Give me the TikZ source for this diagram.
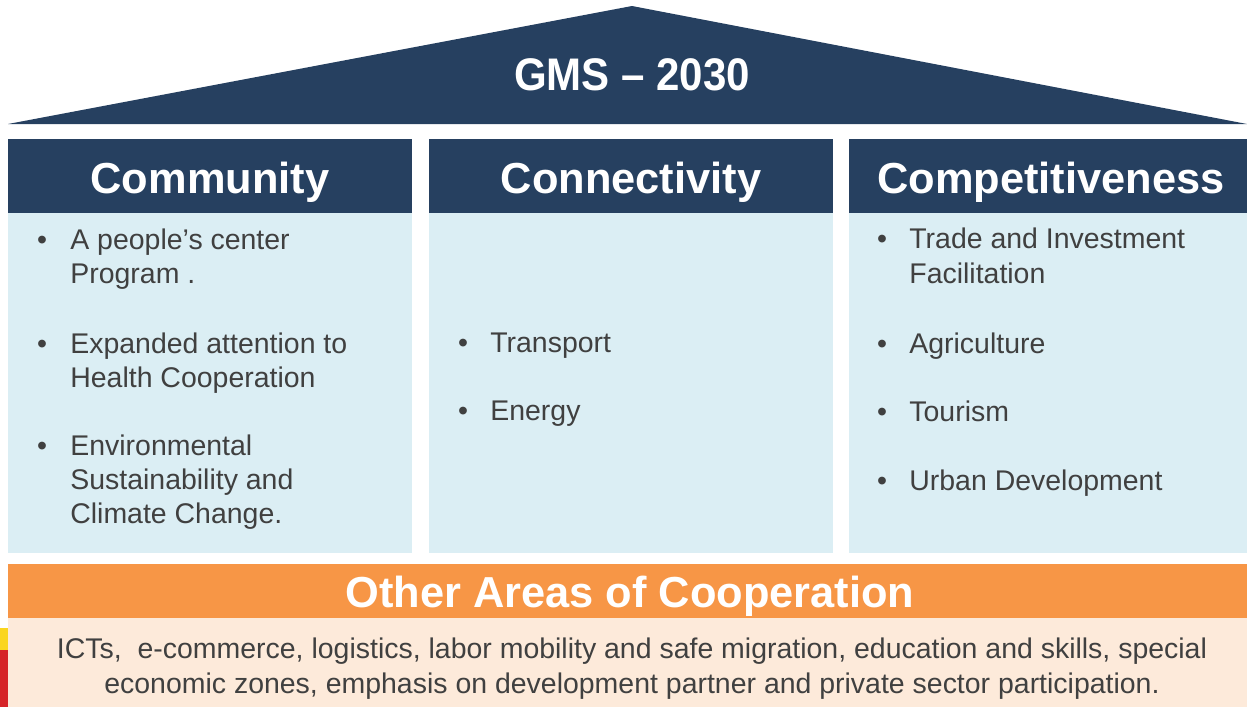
\documentclass[tikz,border=0pt]{standalone}
\usepackage{fontspec}
\setmainfont{Liberation Sans}
\usepackage{graphicx}

\definecolor{roofnavy}{RGB}{38,64,96}
\definecolor{paleblue}{RGB}{219,238,244}
\definecolor{bandorange}{RGB}{247,150,70}
\definecolor{peach}{RGB}{253,234,218}
\definecolor{bodygray}{RGB}{64,64,64}
\definecolor{logored}{RGB}{214,36,40}
\definecolor{logoyellow}{RGB}{250,214,30}

\tikzset{
  headtext/.style={font=\bfseries\fontsize{24.7}{29}\selectfont, white, anchor=base, inner sep=0pt},
  itemtext/.style={font=\fontsize{16.2}{19.4}\selectfont, bodygray, anchor=base west, inner sep=0pt},
  itemdot/.style={font=\fontsize{16.2}{19.4}\selectfont, bodygray, anchor=base, inner sep=0pt},
  bandtext/.style={font=\fontsize{16.2}{19.4}\selectfont, bodygray, anchor=base, inner sep=0pt}
}

\begin{document}
\begin{tikzpicture}[x=0.02cm, y=-0.02cm]
        \useasboundingbox (0,0) rectangle (1247,707);
        % roof
        \fill[roofnavy] (8,124) -- (632,6) -- (1247,124) -- cycle;
        \node[headtext, font=\bfseries\fontsize{26}{30}\selectfont] (gms) at (632,90) {\scalebox{0.92}[1]{GMS – 2030}};
        % pillars
        \fill[roofnavy] (8,139) rectangle (412,213);
        \fill[roofnavy] (429,139) rectangle (833,213);
        \fill[roofnavy] (849,139) rectangle (1247,213);
        \fill[paleblue] (8,213) rectangle (412,553);
        \fill[paleblue] (429,213) rectangle (833,553);
        \fill[paleblue] (849,213) rectangle (1247,553);
        \node[headtext] (community) at (210,193) {Community};
        \node[headtext] (connectivity) at (631,193) {Connectivity};
        \node[headtext] (competitive) at (1051,193) {Competitiveness};
        % community items
        \node[itemdot] (dotA) at (42,249) {•};
        \node[itemtext] (comA1) at (70,249) {A people’s center};
        \node[itemtext] (comA2) at (70,283) {Program .};
        \node[itemdot] (dotB) at (42,353) {•};
        \node[itemtext] (comB1) at (70,353) {Expanded attention to};
        \node[itemtext] (comB2) at (70,387) {Health Cooperation};
        \node[itemdot] (dotC) at (42,455) {•};
        \node[itemtext] (comC1) at (70,455) {Environmental};
        \node[itemtext] (comC2) at (70,489) {Sustainability and};
        \node[itemtext] (comC3) at (70,523) {Climate Change.};
        % connectivity items
        \node[itemdot] (dotD) at (463,352) {•};
        \node[itemtext] (conA) at (490,352) {Transport};
        \node[itemdot] (dotE) at (463,420) {•};
        \node[itemtext] (conB) at (490,420) {Energy};
        % competitiveness items
        \node[itemdot] (dotF) at (882,248) {•};
        \node[itemtext] (cmpA1) at (909,248) {Trade and Investment};
        \node[itemtext] (cmpA2) at (909,283) {Facilitation};
        \node[itemdot] (dotG) at (882,353) {•};
        \node[itemtext] (cmpB) at (909,353) {Agriculture};
        \node[itemdot] (dotH) at (882,421) {•};
        \node[itemtext] (cmpC) at (909,421) {Tourism};
        \node[itemdot] (dotI) at (882,490) {•};
        \node[itemtext] (cmpD) at (909,490) {Urban Development};
        % base
        \fill[logoyellow] (0,628) rectangle (8,707);
        \fill[logored] (0,650) rectangle (8,707);
        \fill[bandorange] (8,564) rectangle (1247,618);
        \fill[peach] (8,618) rectangle (1247,707);
        \node[headtext] (other) at (630,607) {Other Areas of Cooperation};
        \node[bandtext] (otherA) at (632,658) {ICTs,\ \ e-commerce, logistics, labor mobility and safe migration, education and skills, special};
        \node[bandtext] (otherB) at (632,693) {economic zones, emphasis on development partner and private sector participation.};
\end{tikzpicture}
\end{document}
